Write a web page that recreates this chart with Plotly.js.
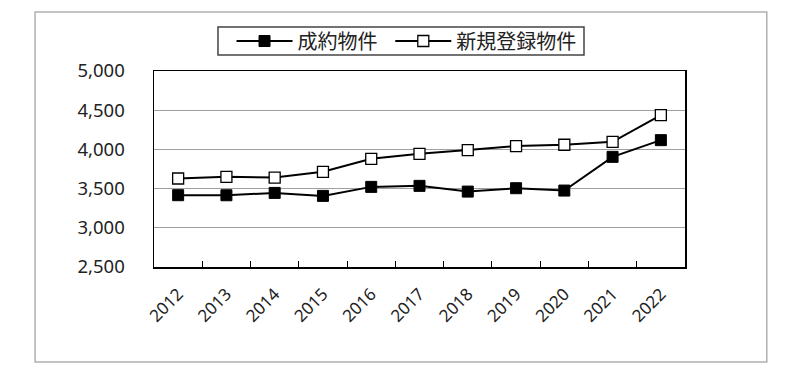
<!DOCTYPE html>
<html>
<head>
<meta charset="utf-8">
<script src="https://cdn.plot.ly/plotly-3.0.1.min.js"></script>
<style>html,body{margin:0;padding:0;background:#fff;}#chart{width:800px;height:376px;}</style>
</head>
<body>
<div id="chart"></div>
<script>
const years = ["2012","2013","2014","2015","2016","2017","2018","2019","2020","2021","2022"];
const contracted = [3416, 3415, 3445, 3407, 3522, 3535, 3462, 3505, 3475, 3905, 4118];
const newListings = [3629, 3650, 3641, 3714, 3880, 3944, 3991, 4042, 4059, 4097, 4438];
const seriesNames = ["成約物件", "新規登録物件"];
const yTicks = [2500, 3000, 3500, 4000, 4500, 5000];

const fontFam = "Noto Sans, Noto Sans CJK JP, sans-serif";

const traces = [
  {
    x: years, y: contracted, name: seriesNames[0], type: "scatter", mode: "lines+markers",
    legend: "legend",
    line: {color: "#000", width: 2},
    marker: {symbol: "square", size: 11, color: "#000", line: {color: "#000", width: 1}}
  },
  {
    x: years, y: newListings, name: seriesNames[1], type: "scatter", mode: "lines+markers",
    legend: "legend2",
    line: {color: "#000", width: 2},
    marker: {symbol: "square", size: 11, color: "#fff", line: {color: "#000", width: 1.3}}
  }
];

const legendBase = {
  orientation: "h", xanchor: "left", y: 1.153, yanchor: "middle",
  font: {size: 20, color: "#222", family: fontFam},
  borderwidth: 0, bgcolor: "rgba(0,0,0,0)",
  itemwidth: 56
};

const layout = {
  width: 800, height: 376,
  margin: {l: 154, r: 115, t: 71, b: 109, pad: 0},
  paper_bgcolor: "#fff", plot_bgcolor: "#fff",
  font: {family: fontFam, color: "#222", size: 16},
  showlegend: true,
  legend: Object.assign({}, legendBase, {x: 0.146}),
  legend2: Object.assign({}, legendBase, {x: 0.445}),
  xaxis: {
    type: "category", tickangle: -45,
    showline: true, linecolor: "#000", linewidth: 1.5, mirror: true,
    ticks: "inside", ticklen: 6, tickcolor: "#000", tickwidth: 1,
    tickson: "boundaries", showgrid: false,
    tickfont: {size: 17, color: "#222", family: fontFam},
    ticklabelstandoff: 9,
    range: [-0.5, 10.5], fixedrange: true
  },
  yaxis: {
    range: [2500, 5000], tickvals: yTicks,
    tickformat: ",d",
    showline: true, linecolor: "#000", linewidth: 1.5, mirror: true,
    ticks: "", showgrid: true, gridcolor: "#a0a0a0", gridwidth: 1,
    tickfont: {size: 18.5, color: "#222", family: fontFam},
    ticklabelstandoff: 24, zeroline: false
  },
  shapes: [
    {type: "rect", xref: "paper", yref: "paper", x0: -0.224, x1: 1.154, y0: -0.485, y1: 1.301,
     line: {color: "#b0b0b0", width: 1.5}, fillcolor: "rgba(0,0,0,0)", layer: "below"},
    {type: "rect", xref: "paper", yref: "paper", x0: 0.1205, x1: 0.8098, y0: 1.0816, y1: 1.2245,
     line: {color: "#444", width: 1.5}, fillcolor: "rgba(0,0,0,0)", layer: "below"}
  ]
};

Plotly.newPlot("chart", traces, layout, {displayModeBar: false, staticPlot: true});
</script>
</body>
</html>
